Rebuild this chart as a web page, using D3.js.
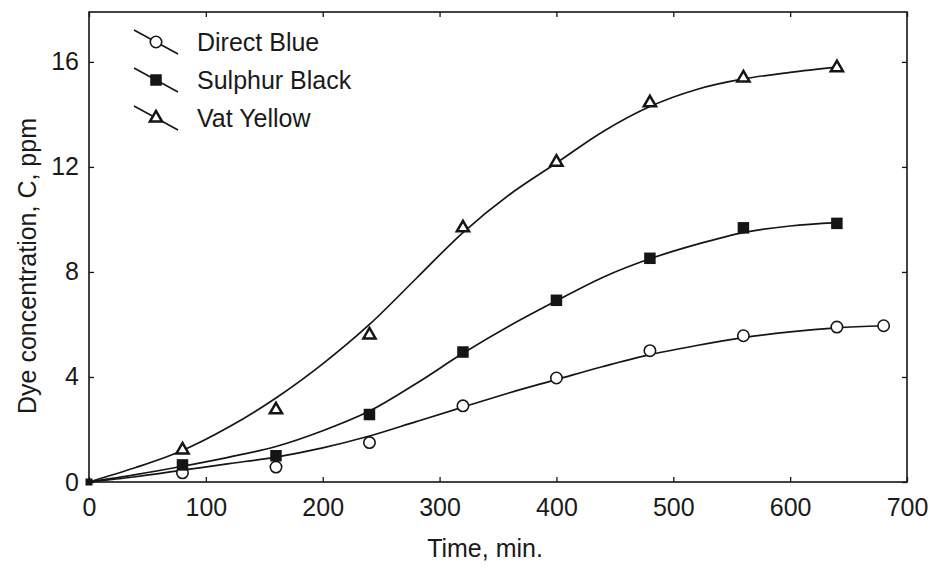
<!DOCTYPE html>
<html>
<head>
<meta charset="utf-8">
<script src="https://cdn.jsdelivr.net/npm/d3@7/dist/d3.min.js"></script>
<style>
  html, body { margin: 0; padding: 0; background: #fff; }
  svg { display: block; }
  text { font-family: "Liberation Sans", Arial, sans-serif; fill: #1a1a1a; }
</style>
</head>
<body>
<script>
// ---- data ----
const seriesNames = ["Direct Blue", "Sulphur Black", "Vat Yellow"];

const blueTimes = [80, 160, 240, 320, 400, 480, 560, 640, 680];
const blueValues = [0.35, 0.57, 1.5, 2.9, 3.96, 5.0, 5.57, 5.9, 5.95];

const blackTimes = [0, 80, 160, 240, 320, 400, 480, 560, 640];
const blackValues = [0, 0.65, 1.0, 2.57, 4.95, 6.92, 8.52, 9.68, 9.85];

const yellowTimes = [80, 160, 240, 320, 400, 480, 560, 640];
const yellowValues = [1.22, 2.75, 5.6, 9.68, 12.18, 14.44, 15.39, 15.78];

// fitted curves
const blueCurveTimes = [0, 40, 80, 120, 160, 200, 240, 280, 320, 360, 400, 440, 480, 520, 560, 600, 640, 680];
const blueCurveValues = [0, 0.2, 0.45, 0.7, 0.95, 1.3, 1.75, 2.3, 2.85, 3.4, 3.9, 4.4, 4.85, 5.2, 5.5, 5.72, 5.87, 5.95];

const blackCurveTimes = [0, 40, 80, 120, 160, 200, 240, 280, 320, 360, 400, 440, 480, 520, 560, 600, 640];
const blackCurveValues = [0, 0.28, 0.6, 0.95, 1.35, 1.95, 2.7, 3.75, 4.9, 5.95, 6.9, 7.8, 8.5, 9.05, 9.5, 9.75, 9.88];

const yellowCurveTimes = [0, 40, 80, 120, 160, 200, 240, 280, 320, 360, 400, 440, 480, 520, 560, 600, 640];
const yellowCurveValues = [0, 0.55, 1.2, 2.1, 3.2, 4.5, 6.0, 7.75, 9.5, 10.95, 12.15, 13.35, 14.3, 14.95, 15.35, 15.6, 15.8];

const xTicks = [0, 100, 200, 300, 400, 500, 600, 700];
const yTicks = [0, 4, 8, 12, 16];

const xTitle = "Time, min.";
const yTitle = "Dye concentration, C, ppm";

// ---- layout ----
const W = 937, H = 569;
const mLeft = 89, mRight = 907, mTop = 12, mBottom = 482;
const INK = "#151515";
const FS = "25px";

const x = d3.scaleLinear().domain([0, 700]).range([mLeft, mRight]);
const y = d3.scaleLinear().domain([0, 17.9]).range([mBottom, mTop]);

const svg = d3.select("body").append("svg").attr("width", W).attr("height", H);

// frame
svg.append("rect")
  .attr("x", mLeft).attr("y", mTop)
  .attr("width", mRight - mLeft).attr("height", mBottom - mTop)
  .attr("fill", "none").attr("stroke", INK).attr("stroke-width", 1.6);

// axes (inward ticks)
function styleAxis(g) {
  g.select(".domain").remove();
  g.selectAll(".tick line").attr("stroke", INK).attr("stroke-width", 1.3);
  g.selectAll(".tick text").attr("fill", INK)
    .style("font-size", FS).style("font-family", "'Liberation Sans', Arial, sans-serif");
}
const gx = svg.append("g").attr("transform", `translate(0,${mBottom})`)
  .call(d3.axisBottom(x).tickValues(xTicks).tickSizeInner(-5).tickSizeOuter(0).tickPadding(16).tickFormat(d3.format("d")));
styleAxis(gx);
const gy = svg.append("g").attr("transform", `translate(${mLeft},0)`)
  .call(d3.axisLeft(y).tickValues(yTicks).tickSizeInner(-5).tickSizeOuter(0).tickPadding(10).tickFormat(d3.format("d")));
styleAxis(gy);
const gt = svg.append("g").attr("transform", `translate(0,${mTop})`)
  .call(d3.axisTop(x).tickValues(xTicks).tickSizeInner(-5).tickSizeOuter(0).tickFormat(""));
styleAxis(gt);
const gr = svg.append("g").attr("transform", `translate(${mRight},0)`)
  .call(d3.axisRight(y).tickValues(yTicks).tickSizeInner(-5).tickSizeOuter(0).tickFormat(""));
styleAxis(gr);

// titles
svg.append("text").attr("x", 485).attr("y", 557).attr("text-anchor", "middle")
  .style("font-size", FS).text(xTitle);
svg.append("text").attr("transform", "translate(36,266) rotate(-90)").attr("text-anchor", "middle")
  .style("font-size", FS).text(yTitle);

// curves
const line = d3.line().x(d => x(d[0])).y(d => y(d[1])).curve(d3.curveCatmullRom.alpha(0.5));
const curves = [
  d3.zip(blueCurveTimes, blueCurveValues),
  d3.zip(blackCurveTimes, blackCurveValues),
  d3.zip(yellowCurveTimes, yellowCurveValues)
];
svg.append("g").selectAll("path").data(curves).join("path")
  .attr("d", line).attr("fill", "none").attr("stroke", INK).attr("stroke-width", 1.7);

// markers
function drawMarker(g, kind, small) {
  if (kind === 0) {
    g.append("circle").attr("r", 5.7).attr("fill", "#fff").attr("stroke", INK).attr("stroke-width", 1.6);
  } else if (kind === 1) {
    const s = small ? 7 : 11.5;
    g.append("rect").attr("x", -s / 2).attr("y", -s / 2).attr("width", s).attr("height", s).attr("fill", INK);
  } else {
    g.append("path").attr("d", d3.symbol(d3.symbolTriangle, 64)()).attr("fill", "#fff")
      .attr("stroke", INK).attr("stroke-width", 2.5);
  }
}
const pointSets = [
  d3.zip(blueTimes, blueValues),
  d3.zip(blackTimes, blackValues),
  d3.zip(yellowTimes, yellowValues)
];
pointSets.forEach((pts, k) => {
  svg.append("g").selectAll("g").data(pts).join("g")
    .attr("transform", d => `translate(${x(d[0])},${y(d[1])})`)
    .each(function (d) { drawMarker(d3.select(this), k, d[0] === 0); });
});

// legend
const legY = [42, 80, 118];
seriesNames.forEach((name, k) => {
  const g = svg.append("g").attr("transform", `translate(156,${legY[k]})`);
  g.append("line").attr("x1", -22).attr("y1", -12).attr("x2", 22).attr("y2", 12)
    .attr("stroke", INK).attr("stroke-width", 1.6);
  drawMarker(g, k, false);
  svg.append("text").attr("x", 197).attr("y", legY[k] + 9).style("font-size", FS).text(name);
});
</script>
</body>
</html>
